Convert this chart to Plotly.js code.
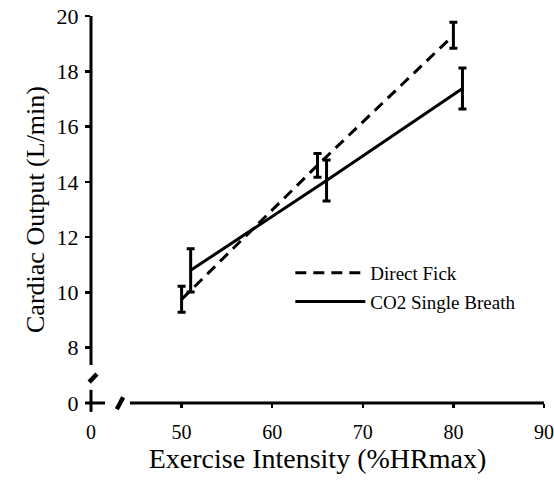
<!DOCTYPE html>
<html>
<head>
<meta charset="utf-8">
<script src="https://cdn.plot.ly/plotly-3.0.1.min.js"></script>
<style>html,body{margin:0;padding:0;background:#fff;}#chart{width:554px;height:480px;}</style>
</head>
<body>
<div id="chart"></div>
<script>
// Data
const seriesNames = ["Direct Fick", "CO2 Single Breath"];
const fickX = [50, 65, 80];
const fickY = [9.75, 14.6, 19.3];
const fickErr = [0.47, 0.43, 0.47];
const co2X = [51, 66, 81];
const co2Y = [10.8, 14.05, 17.38];
const co2Err = [0.78, 0.74, 0.74];
// Broken axes: "0" is placed at the break position
const xTickVals = [40, 50, 60, 70, 80, 90];
const xTickText = ["0", "50", "60", "70", "80", "90"];
const yTickVals = [6, 8, 10, 12, 14, 16, 18, 20];
const yTickText = ["0", "8", "10", "12", "14", "16", "18", "20"];

const FONT = "Liberation Serif";

const traces = [
  {
    x: fickX, y: fickY, name: seriesNames[0], type: "scatter", mode: "lines",
    line: {color: "black", width: 3, dash: "11px,7px"},
    error_y: {type: "data", array: fickErr, visible: true, color: "black", thickness: 3, width: 4},
    legendgroup: "a"
  },
  {
    x: co2X, y: co2Y, name: seriesNames[1], type: "scatter", mode: "lines",
    line: {color: "black", width: 3},
    error_y: {type: "data", array: co2Err, visible: true, color: "black", thickness: 3, width: 4},
    legendgroup: "b"
  }
];

function seg(x0, y0, x1, y1, w) {
  return {type: "line", xref: "paper", yref: "paper", x0: x0, y0: y0, x1: x1, y1: y1,
          line: {color: "black", width: w}};
}

const layout = {
  width: 554, height: 480,
  margin: {l: 91, r: 10, t: 16, b: 77},
  paper_bgcolor: "white", plot_bgcolor: "white",
  font: {family: FONT, color: "black", size: 16},
  showlegend: true,
  legend: {
    x: 0.44, y: 0.385, xanchor: "left", yanchor: "top",
    font: {family: FONT, size: 19, color: "black"},
    bgcolor: "rgba(0,0,0,0)", itemwidth: 70,
    traceorder: "grouped", tracegroupgap: 1
  },
  xaxis: {
    range: [40, 90], showgrid: false, zeroline: false, showline: false,
    tickmode: "array", tickvals: xTickVals, ticktext: xTickText,
    ticks: "outside", ticklen: 4, tickwidth: 2.5, tickcolor: "black",
    ticklabelstandoff: 7, ticklabeloverflow: "allow",
    tickfont: {family: FONT, size: 20, color: "black"},
    title: {text: "Exercise Intensity (%HRmax)", font: {family: FONT, size: 28, color: "black"}, standoff: 4}
  },
  yaxis: {
    range: [6, 20], showgrid: false, zeroline: false, showline: false,
    tickmode: "array", tickvals: yTickVals, ticktext: yTickText,
    ticks: "outside", ticklen: 5, tickwidth: 2.5, tickcolor: "black",
    ticklabelstandoff: 2,
    tickfont: {family: FONT, size: 22, color: "black"},
    title: {text: "Cardiac Output (L/min)", font: {family: FONT, size: 26, color: "black"}, standoff: 4}
  },
  shapes: [
    // y axis main line
    seg(0, 0.098, 0, 1.0, 3),
    // origin cross
    seg(0, 0.034, 0, -0.023, 3),
    seg(-0.013, 0, 0.031, 0, 3),
    // y break mark
    seg(-0.004, 0.054, 0.013, 0.075, 4.5),
    // x break mark
    seg(0.057, -0.016, 0.071, 0.015, 4.5),
    // x axis main line
    seg(0.086, 0, 1.0, 0, 3)
  ]
};

Plotly.newPlot("chart", traces, layout, {displayModeBar: false, staticPlot: true});
</script>
</body>
</html>
